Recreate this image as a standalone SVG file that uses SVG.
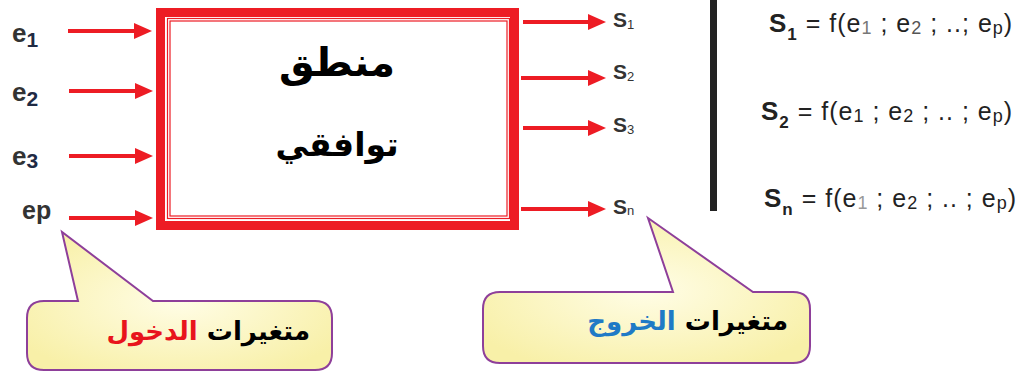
<svg xmlns="http://www.w3.org/2000/svg" width="1029" height="373" viewBox="0 0 1029 373">
<style>
.lbl{font-family:"Liberation Sans",Arial,sans-serif;font-weight:bold;fill:#333}
.eq{font-family:"Liberation Sans",Arial,sans-serif;fill:#222;letter-spacing:1px}
.ar{font-family:"DejaVu Sans",sans-serif;font-weight:bold}
.arrow{stroke:#ed1c24;stroke-width:4;fill:none;marker-end:url(#ah)}
.callout{stroke:#8e3f9a;stroke-width:2;fill:url(#yg)}
</style>
<defs>
<marker id="ah" markerWidth="4.5" markerHeight="4" refX="0.5" refY="2" orient="auto" markerUnits="strokeWidth">
<path d="M0,0 L4.5,2 L0,4 Z" fill="#ed1c24"/>
</marker>
<radialGradient id="yg" cx="0.5" cy="0.5" r="0.6">
<stop offset="0" stop-color="#fffde6"/>
<stop offset="1" stop-color="#f8f0a8"/>
</radialGradient>
</defs>

<g id="block">
<rect x="160.5" y="12.5" width="354" height="213" fill="#fff" stroke="#ed1c24" stroke-width="9"/>
<rect x="167.5" y="18.5" width="342" height="200" fill="none" stroke="#ed1c24" stroke-width="1.2"/>
<rect x="170" y="21" width="337" height="195" fill="none" stroke="#ed1c24" stroke-width="1.2"/>
<text class="ar" x="337" y="76" font-size="40" text-anchor="middle" fill="#000">منطق</text>
<text class="ar" x="337" y="156" font-size="33" text-anchor="middle" fill="#000">توافقي</text>
</g>

<g id="inputs">
<text class="lbl" x="12" y="42" font-size="26">e<tspan font-size="21" dy="5" fill="#1f2a44">1</tspan></text>
<text class="lbl" x="12" y="101" font-size="26">e<tspan font-size="21" dy="5" fill="#1f2a44">2</tspan></text>
<text class="lbl" x="12" y="165" font-size="26">e<tspan font-size="21" dy="3" fill="#1f2a44">3</tspan></text>
<text class="lbl" x="22" y="219" font-size="25">ep</text>
</g>

<g id="outputs">
<text class="lbl" x="613" y="27" font-size="21">S<tspan font-size="13" dy="2" font-weight="normal">1</tspan></text>
<text class="lbl" x="613" y="79" font-size="21">S<tspan font-size="13" dy="2" font-weight="normal">2</tspan></text>
<text class="lbl" x="613" y="132" font-size="21">S<tspan font-size="13" dy="2" font-weight="normal">3</tspan></text>
<text class="lbl" x="613" y="214" font-size="21">S<tspan font-size="13" dy="1" font-weight="normal">n</tspan></text>
</g>

<g id="separator">
<rect x="710" y="0" width="7" height="211" fill="#222"/>
</g>

<g id="equations">
<text class="eq" x="769" y="32" font-size="25"><tspan font-weight="bold" font-size="26">S</tspan><tspan font-weight="bold" font-size="17" dy="8">1</tspan><tspan dy="-8"> = f(e</tspan><tspan font-size="18" dy="2" fill="#777">1</tspan><tspan dy="-2"> ; e</tspan><tspan font-size="18" dy="2" fill="#555">2</tspan><tspan dy="-2"> ; ..; e</tspan><tspan font-size="18" dy="2">p</tspan><tspan dy="-2">)</tspan></text>
<text class="eq" x="761" y="120" font-size="25"><tspan font-weight="bold" font-size="26">S</tspan><tspan font-weight="bold" font-size="17" dy="8">2</tspan><tspan dy="-8"> = f(e</tspan><tspan font-size="18" dy="2">1</tspan><tspan dy="-2"> ; e</tspan><tspan font-size="18" dy="2">2</tspan><tspan dy="-2"> ; .. ;  e</tspan><tspan font-size="18" dy="2">p</tspan><tspan dy="-2">)</tspan></text>
<text class="eq" x="764" y="207" font-size="25"><tspan font-weight="bold" font-size="26">S</tspan><tspan font-weight="bold" font-size="17" dy="8">n</tspan><tspan dy="-8"> = f(e</tspan><tspan font-size="18" dy="2" fill="#999">1</tspan><tspan dy="-2"> ; e</tspan><tspan font-size="18" dy="2">2</tspan><tspan dy="-2"> ; .. ; e</tspan><tspan font-size="18" dy="2">p</tspan><tspan dy="-2">)</tspan></text>
</g>

<g id="callout-in">
<path class="callout" d="M44 301 L78 301 L62 232 L153 301 L315 301 Q332 301 332 318 L332 353 Q332 370 315 370 L44 370 Q27 370 27 353 L27 318 Q27 301 44 301 Z"/>
<text class="ar" x="310" y="340" font-size="26" direction="rtl" text-anchor="start"><tspan fill="#000">متغيرات </tspan><tspan fill="#e8141c">الدخول</tspan></text>
</g>

<g id="callout-out">
<path class="callout" d="M500 292 L673 292 L648 218 L753 292 L793 292 Q810 292 810 309 L810 346 Q810 363 793 363 L500 363 Q483 363 483 346 L483 309 Q483 292 500 292 Z"/>
<text class="ar" x="788" y="330" font-size="26" direction="rtl" text-anchor="start"><tspan fill="#000">متغيرات </tspan><tspan fill="#1f7ac6">الخروج</tspan></text>
</g>

<g id="connectors">
<line class="arrow" x1="68" y1="31" x2="136" y2="31"/>
<line class="arrow" x1="69" y1="91" x2="137" y2="91"/>
<line class="arrow" x1="69" y1="156" x2="137" y2="156"/>
<line class="arrow" x1="69" y1="218" x2="137" y2="218"/>
<line class="arrow" x1="523" y1="22" x2="590" y2="22"/>
<line class="arrow" x1="521" y1="78" x2="590" y2="78"/>
<line class="arrow" x1="523" y1="128" x2="590" y2="128"/>
<line class="arrow" x1="521" y1="209" x2="590" y2="209"/>
</g>
</svg>
